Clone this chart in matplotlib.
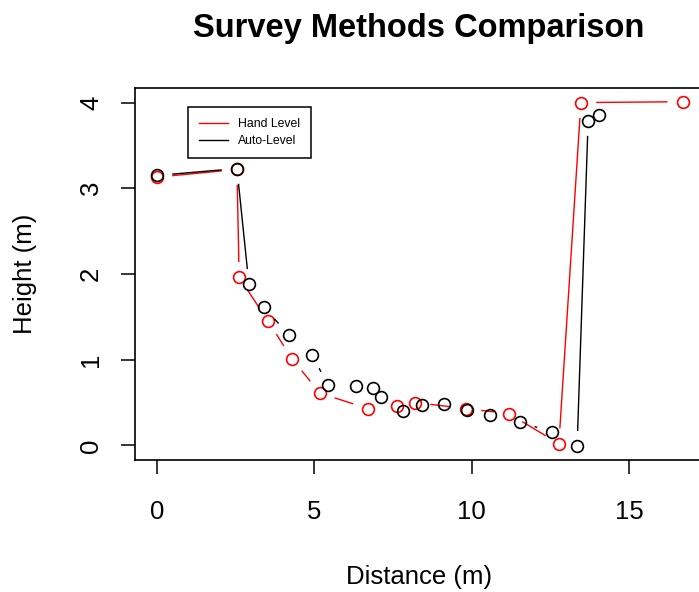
import numpy as np
import matplotlib.pyplot as plt

plt.rcParams['font.family'] = ['Liberation Sans', 'DejaVu Sans']

# Hand Level readings (red)
hand_dist = [0.0, 2.54, 2.61, 3.53, 4.29, 5.18, 6.70, 7.63, 8.20, 9.82, 11.19, 12.77, 13.47, 16.71]
hand_height = [3.13, 3.22, 1.96, 1.45, 1.01, 0.61, 0.43, 0.46, 0.50, 0.43, 0.37, 0.02, 4.00, 4.01]

# Auto-Level readings (black)
auto_dist = [0.0, 2.54, 2.92, 3.40, 4.19, 4.93, 5.43, 6.32, 6.86, 7.12, 7.82, 8.42, 9.12,
             9.85, 10.58, 11.53, 12.55, 13.35, 13.70, 14.05]
auto_height = [3.15, 3.23, 1.88, 1.61, 1.29, 1.06, 0.70, 0.69, 0.67, 0.56, 0.40, 0.47, 0.48,
               0.41, 0.35, 0.27, 0.16, -0.01, 3.79, 3.86]

xticks = [0, 5, 10, 15]
yticks = [0, 1, 2, 3, 4]

fig = plt.figure(figsize=(6.99, 5.92), dpi=100)
ax = fig.add_axes([135 / 699, 132 / 592, 568 / 699, 372 / 592])
ax.set_xlim(-0.70, 17.35)
ax.set_ylim(-0.17, 4.17)


def plot_b(ax, x, y, color, label, gap=16):
    # R style type="b": points joined by lines with a gap round each point
    pts = ax.transData.transform(np.column_stack([x, y]))
    inv = ax.transData.inverted()
    first = True
    for p0, p1 in zip(pts[:-1], pts[1:]):
        d = p1 - p0
        L = np.hypot(*d)
        if L <= 2 * gap:
            continue
        u = d / L
        a = inv.transform(p0 + u * gap)
        b = inv.transform(p1 - u * gap)
        ax.plot([a[0], b[0]], [a[1], b[1]], color=color, lw=1.0,
                label=label if first else None)
        first = False
    ax.plot(x, y, 'o', ms=8.5, mfc='none', mec=color, mew=1.2, ls='none')


plot_b(ax, hand_dist, hand_height, 'red', 'Hand Level')
plot_b(ax, auto_dist, auto_height, 'black', 'Auto-Level')

ax.set_xticks(xticks)
ax.set_yticks(yticks)
ax.tick_params(direction='out', length=10, width=1.1, labelsize=18.5, pad=19)
ax.tick_params(axis='y', pad=13)
for lbl in ax.get_yticklabels():
    lbl.set_rotation(90)
    lbl.set_va('center')
for s in ax.spines.values():
    s.set_linewidth(1.2)

ax.set_xlabel('Distance (m)', fontsize=18.5)
ax.set_ylabel('Height (m)', fontsize=18.5)
ax.xaxis.set_label_coords(0.5, -0.314)
ax.yaxis.set_label_coords(-0.194, 0.5)
ax.xaxis.label.set_va('center')
ax.yaxis.label.set_va('center')

leg = ax.legend(loc='upper left', bbox_to_anchor=(0.093, 0.949), fontsize=8.8,
                frameon=True, fancybox=False, edgecolor='black', framealpha=1,
                handlelength=2.4, handletextpad=0.8, borderpad=0.9,
                labelspacing=0.4, borderaxespad=0)
leg.get_frame().set_linewidth(1.1)

fig.text(419 / 699, 1 - 29 / 592, 'Survey Methods Comparison', fontsize=23.5,
         fontweight='bold', ha='center', va='center')

fig.savefig('out.png', dpi=100)
